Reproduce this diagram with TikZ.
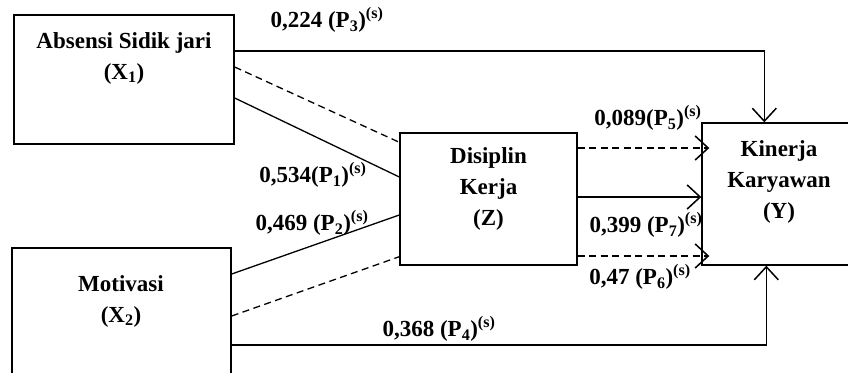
\documentclass[tikz,border=0pt]{standalone}
\usepackage{fontspec}
\setmainfont{Liberation Serif}
\usetikzlibrary{arrows.meta,positioning}

\begin{document}
\begin{tikzpicture}[
  x=1pt, y=-1pt,
  font=\fontsize{23}{31}\selectfont\bfseries,
  varbox/.style={rectangle, draw, line width=1.4pt, inner sep=0pt},
  vtext/.style={align=center, inner sep=0pt},
  coef/.style={inner sep=0pt},
  path/.style={line width=1.3pt},
  dpath/.style={line width=1.3pt, dash pattern=on 7pt off 4.5pt},
  >={Straight Barb[length=13pt, width=24pt, line width=1.5pt]}
]
  \useasboundingbox (0,0) rectangle (848,372);

  % Kotak variabel
  \node[varbox, minimum width=220pt, minimum height=129pt] (x1) at (124, 79.5) {};
  \node[varbox, minimum width=219pt, minimum height=128pt] (x2) at (121.5, 312) {};
  \node[varbox, minimum width=177pt, minimum height=132pt] (z) at (488.5, 199) {};
  \node[varbox, minimum width=154pt, minimum height=142pt] (y) at (779, 194) {};

  \node[vtext] (x1t) at (124, 58) {Absensi Sidik jari\\(X\textsubscript{1})};
  \node[vtext] (x2t) at (121, 301) {Motivasi\\(X\textsubscript{2})};
  \node[vtext] (zt) at (488.5, 189) {Disiplin\\Kerja\\(Z)};
  \node[vtext] (yt) at (779, 182) {Kinerja\\Karyawan\\(Y)};

  % Panah
  \draw[path, ->] ([yshift=28.5pt]x1.east) -| ([xshift=63pt]y.north west);
  \draw[dpath] ([yshift=12.5pt]x1.east) -- ([yshift=-10pt]z.north west);
  \draw[path] ([yshift=-18.5pt]x1.east) -- ([yshift=22pt]z.west);
  \draw[path] ([yshift=38pt]x2.east) -- ([yshift=-16pt]z.west);
  \draw[dpath] ([yshift=-4pt]x2.east) -- ([yshift=9pt]z.south west);
  \draw[path, ->] ([yshift=-33pt]x2.east) -| ([xshift=65pt]y.south west);

  \draw[dpath, ->, shorten >=-8pt] ([yshift=51pt]z.east) -- ([yshift=46pt]y.west);
  \draw[path, ->] ([yshift=2pt]z.east) -- ([yshift=-3pt]y.west);
  \draw[dpath, ->, shorten >=-8pt] ([yshift=-57pt]z.east) -- ([yshift=-62pt]y.west);

  % Koefisien jalur
  \node[coef] (p3) at (327, 20) {0,224 (P\textsubscript{3})\textsuperscript{(s)}};
  \node[coef] (p1) at (313, 175) {0,534(P\textsubscript{1})\textsuperscript{(s)}};
  \node[coef] (p2) at (312, 223) {0,469 (P\textsubscript{2})\textsuperscript{(s)}};
  \node[coef] (p4) at (439, 329) {0,368 (P\textsubscript{4})\textsuperscript{(s)}};
  \node[coef] (p5) at (648, 118) {0,089(P\textsubscript{5})\textsuperscript{(s)}};
  \node[coef] (p7) at (646, 225) {0,399 (P\textsubscript{7})\textsuperscript{(s)}};
  \node[coef] (p6) at (640, 277) {0,47 (P\textsubscript{6})\textsuperscript{(s)}};
\end{tikzpicture}
\end{document}
